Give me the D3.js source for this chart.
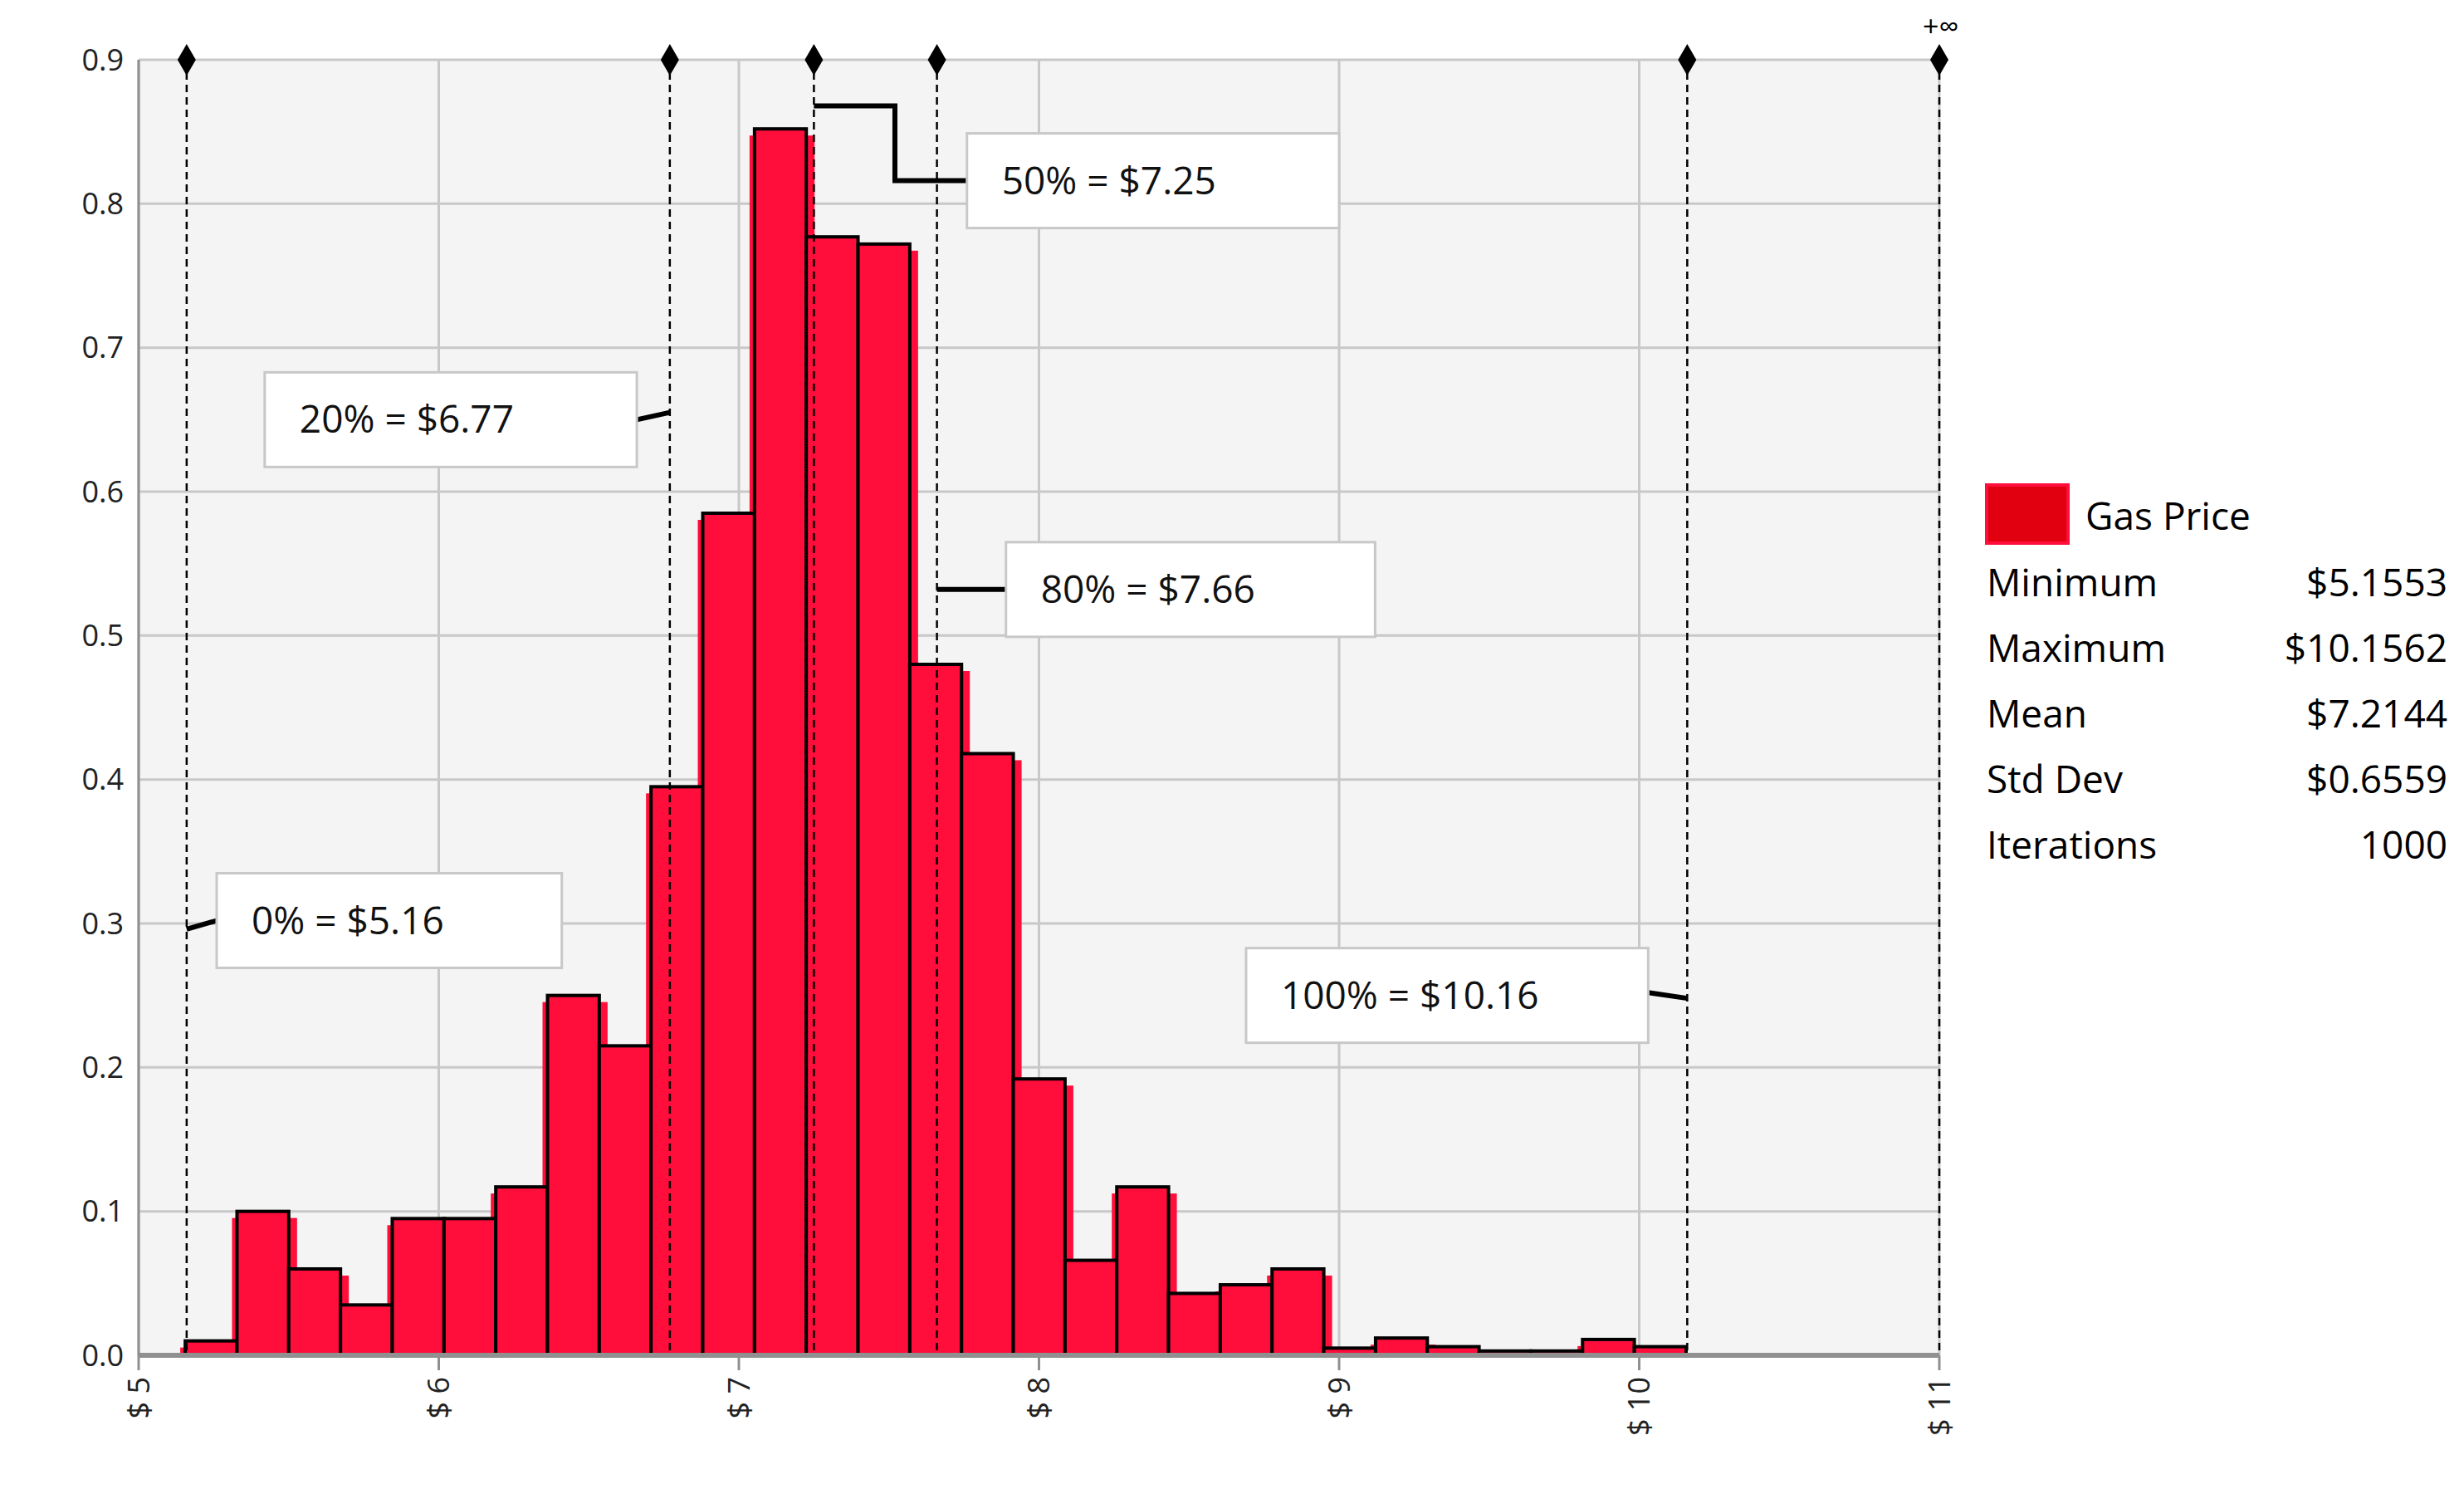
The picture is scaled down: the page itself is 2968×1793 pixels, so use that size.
<!DOCTYPE html>
<html>
<head>
<meta charset="utf-8">
<script src="https://cdn.jsdelivr.net/npm/d3@7"></script>
<style>
  body { margin: 0; background: #fff; }
  text { font-family: "Open Sans", "Liberation Sans", sans-serif; }
</style>
</head>
<body>
<svg id="chart" width="2968" height="1793"></svg>
<script>
// histogram: 29 bins from min to max
const binMin = 5.1553, binMax = 10.1562;
const density = [0.010, 0.100, 0.060, 0.035, 0.095, 0.095, 0.117, 0.250, 0.215, 0.395,
                 0.585, 0.852, 0.777, 0.772, 0.480, 0.418, 0.192, 0.066, 0.117, 0.043,
                 0.049, 0.060, 0.005, 0.012, 0.006, 0.003, 0.003, 0.011, 0.006];
const xTicks = [5, 6, 7, 8, 9, 10, 11];
const yTicks = [0, 0.1, 0.2, 0.3, 0.4, 0.5, 0.6, 0.7, 0.8, 0.9];

// percentile markers and their label boxes (box position in data units)
const pctX     = [5.16, 6.77, 7.25, 7.66, 10.16];
const pctLabel = ['0% = $5.16', '20% = $6.77', '50% = $7.25', '80% = $7.66', '100% = $10.16'];
const boxX0    = [5.26, 5.42, 7.76, 7.89, 8.69];
const boxX1    = [6.41, 6.66, 9.00, 9.12, 10.03];
const boxY     = [0.302, 0.650, 0.816, 0.532, 0.250];

const statNames  = ['Minimum', 'Maximum', 'Mean', 'Std Dev', 'Iterations'];
const statValues = ['$5.1553', '$10.1562', '$7.2144', '$0.6559', '1000'];

const svg = d3.select('#chart');
const L = 167, R = 2336, T = 72, B = 1632;
const x = d3.scaleLinear().domain([5, 11]).range([L, R]);
const y = d3.scaleLinear().domain([0, 0.9]).range([B, T]);
const bw = (binMax - binMin) / density.length;

// plot background and grid
svg.append('rect').attr('x', L).attr('y', T).attr('width', R - L).attr('height', B - T).attr('fill', '#f4f4f4');
svg.append('g').selectAll('line').data(yTicks).join('line')
  .attr('x1', L).attr('x2', R).attr('y1', d => y(d)).attr('y2', d => y(d))
  .attr('stroke', '#c8c8c8').attr('stroke-width', 3);
svg.append('g').selectAll('line').data(xTicks).join('line')
  .attr('x1', d => x(d)).attr('x2', d => x(d)).attr('y1', T).attr('y2', B)
  .attr('stroke', '#c8c8c8').attr('stroke-width', 3);

// red shadow fill
svg.append('g').selectAll('rect').data(density).join('rect')
  .attr('x', (d, i) => x(binMin + i * bw) - 6)
  .attr('y', d => y(d) + 8)
  .attr('width', x(binMin + bw) - x(binMin) + 16)
  .attr('height', d => Math.max(0, B - y(d) - 8))
  .attr('fill', '#ff0d3b');

// outlined bars
svg.append('g').selectAll('rect').data(density).join('rect')
  .attr('x', (d, i) => x(binMin + i * bw))
  .attr('y', d => y(d))
  .attr('width', x(binMin + bw) - x(binMin))
  .attr('height', d => B - y(d))
  .attr('fill', '#ff0d3b').attr('stroke', '#000').attr('stroke-width', 4);

// axes
svg.append('line').attr('x1', L).attr('x2', R).attr('y1', B).attr('y2', B).attr('stroke', '#909090').attr('stroke-width', 6);
svg.append('line').attr('x1', L).attr('x2', L).attr('y1', T).attr('y2', B).attr('stroke', '#909090').attr('stroke-width', 3);
svg.append('g').selectAll('line').data(xTicks).join('line')
  .attr('x1', d => x(d)).attr('x2', d => x(d)).attr('y1', B).attr('y2', B + 18)
  .attr('stroke', '#909090').attr('stroke-width', 3);
svg.append('g').selectAll('text').data(yTicks).join('text')
  .attr('x', L - 18).attr('y', d => y(d)).attr('dy', '0.35em')
  .attr('text-anchor', 'end').attr('font-size', 36).attr('fill', '#222')
  .text(d3.format('.1f'));
svg.append('g').selectAll('text').data(xTicks).join('text')
  .attr('transform', d => `translate(${x(d)},${B + 26}) rotate(-90)`)
  .attr('dy', '0.35em').attr('text-anchor', 'end').attr('font-size', 36).attr('fill', '#222')
  .text(d => '$ ' + d);

// percentile dashed lines and diamonds
const allPct = pctX.concat([11]);
svg.append('g').selectAll('line').data(allPct).join('line')
  .attr('x1', d => x(d)).attr('x2', d => x(d)).attr('y1', T).attr('y2', B)
  .attr('stroke', '#000').attr('stroke-width', 2.5).attr('stroke-dasharray', '9,6');
svg.append('g').selectAll('path').data(allPct).join('path')
  .attr('transform', d => `translate(${x(d)},${T})`)
  .attr('d', d3.symbol(d3.symbolDiamond, 420))
  .attr('fill', '#000');
svg.append('text').attr('x', x(11) - 20).attr('y', T - 28).attr('font-size', 34).text('+∞');

// leader lines
const leaders = [
  [[5.16, 0.296], [5.26, 0.302]],
  [[6.66, 0.650], [6.77, 0.655]],
  [[7.25, 0.868], [7.52, 0.868], [7.52, 0.816], [7.76, 0.816]],
  [[7.66, 0.532], [7.89, 0.532]],
  [[10.03, 0.252], [10.16, 0.248]]
];
const line = d3.line().x(d => x(d[0])).y(d => y(d[1]));
svg.append('g').selectAll('path').data(leaders).join('path')
  .attr('d', line).attr('fill', 'none').attr('stroke', '#000').attr('stroke-width', 6);

// label boxes
const boxH = 114;
const boxes = svg.append('g').selectAll('g').data(pctLabel).join('g');
boxes.append('rect')
  .attr('x', (d, i) => x(boxX0[i])).attr('y', (d, i) => y(boxY[i]) - boxH / 2)
  .attr('width', (d, i) => x(boxX1[i]) - x(boxX0[i])).attr('height', boxH)
  .attr('fill', '#fff').attr('stroke', '#c8c8c8').attr('stroke-width', 3);
boxes.append('text')
  .attr('x', (d, i) => x(boxX0[i]) + 42).attr('y', (d, i) => y(boxY[i]))
  .attr('dy', '0.35em').attr('font-size', 46).attr('fill', '#111')
  .text(d => d);

// legend and statistics
const lx = 2393;
svg.append('rect').attr('x', lx).attr('y', 584).attr('width', 98).attr('height', 70)
  .attr('fill', '#e00010').attr('stroke', '#ff0d3b').attr('stroke-width', 4);
svg.append('text').attr('x', 2512).attr('y', 622).attr('dy', '0.35em').attr('font-size', 46).text('Gas Price');
const stats = svg.append('g').selectAll('g').data(statNames).join('g')
  .attr('transform', (d, i) => `translate(0,${702 + i * 79})`);
stats.append('text').attr('x', lx).attr('dy', '0.35em').attr('font-size', 46).text(d => d);
stats.append('text').attr('x', 2948).attr('dy', '0.35em').attr('text-anchor', 'end')
  .attr('font-size', 46).text((d, i) => statValues[i]);
</script>
</body>
</html>
